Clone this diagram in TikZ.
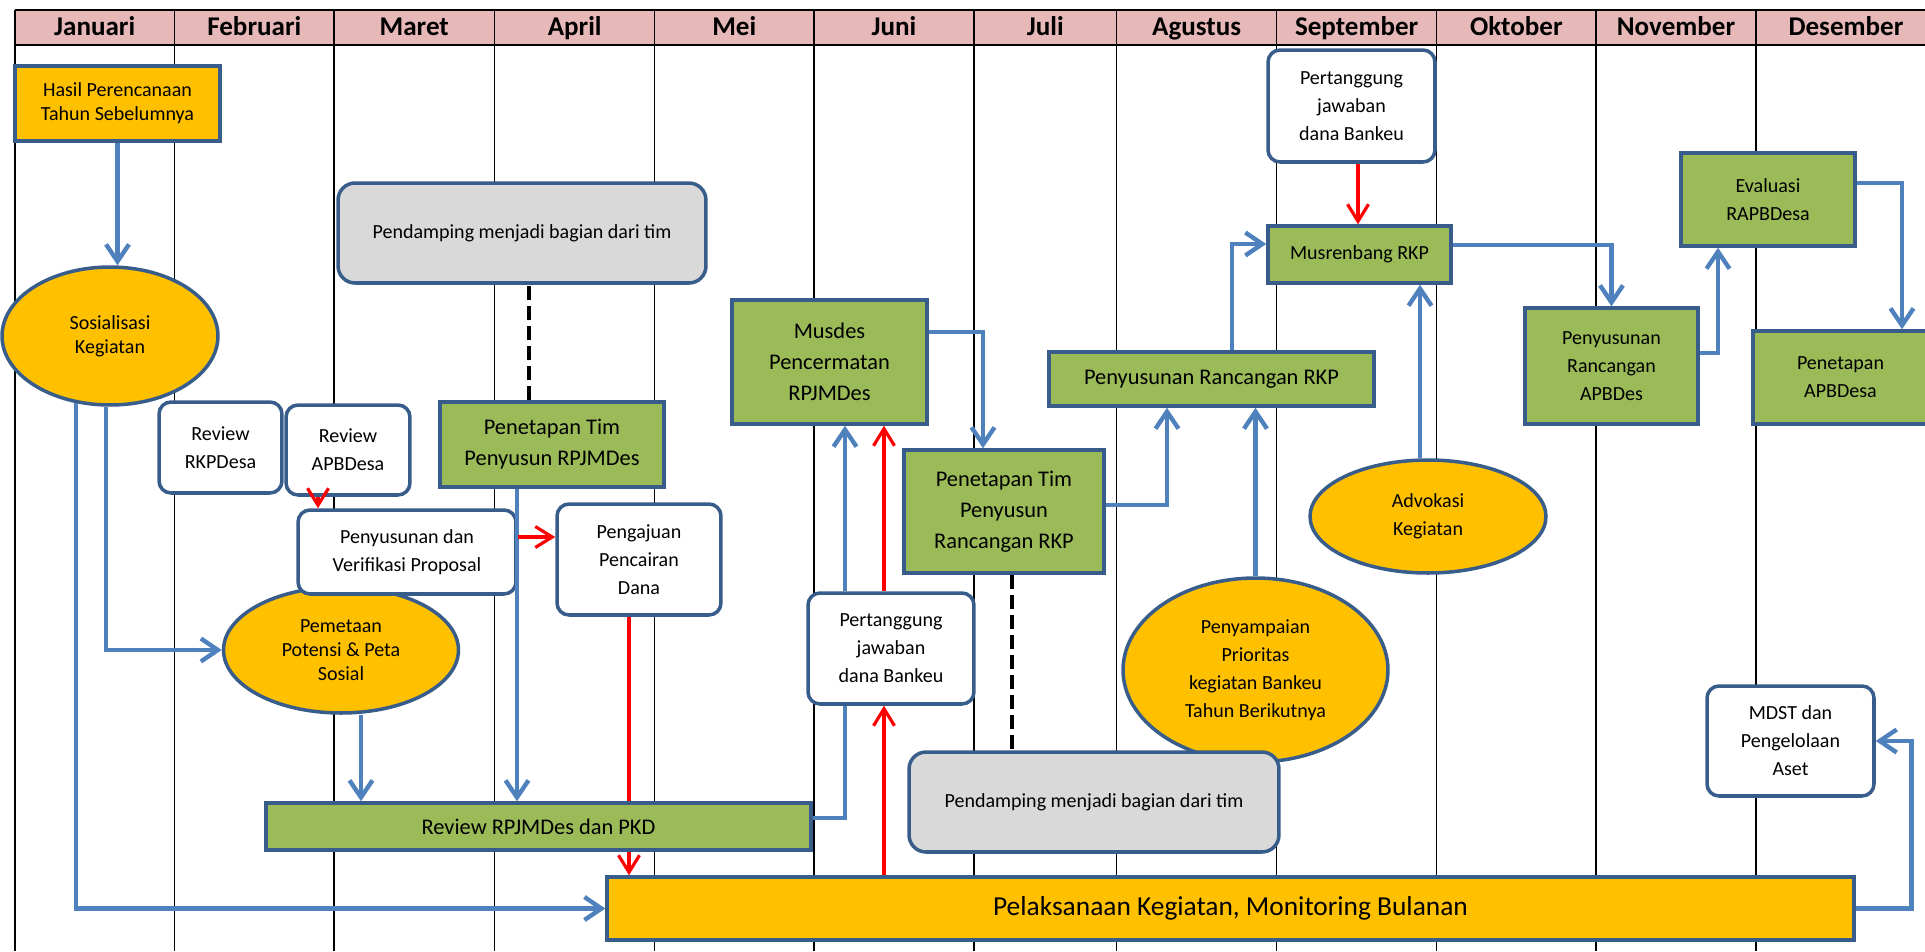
\documentclass[tikz,border=0pt]{standalone}
\usepackage{fontspec}
\setmainfont{Carlito}
\usetikzlibrary{arrows.meta,shapes.geometric}

\definecolor{headerpink}{HTML}{E6B8B7}
\definecolor{boxorange}{HTML}{FFC000}
\definecolor{boxgreen}{HTML}{9BBB59}
\definecolor{boxgray}{HTML}{D9D9D9}
\definecolor{nodeborder}{HTML}{385D8A}
\definecolor{flowblue}{HTML}{4F81BD}

\tikzset{
  boxline/.style={draw=nodeborder, line width=2pt, align=center, inner sep=0pt},
  smalltext/.style={font=\fontsize{11.4}{15.9}\selectfont},
  tighttext/.style={font=\fontsize{11.4}{13.7}\selectfont},
  midtext/.style={font=\fontsize{12.75}{17.6}\selectfont},
  greenbox/.style={boxline, rectangle, fill=boxgreen, midtext},
  orangebox/.style={boxline, rectangle, fill=boxorange, tighttext},
  orangeoval/.style={boxline, ellipse, fill=boxorange, smalltext},
  whitebox/.style={boxline, rectangle, rounded corners=0.24cm, fill=white, smalltext},
  graybox/.style={boxline, rectangle, rounded corners=0.34cm, fill=boxgray, smalltext},
  flowline/.style={draw=flowblue, line width=2.5pt},
  flow/.style={flowline, -{Straight Barb[length=0.34cm, width=0.46cm]}},
  redflow/.style={draw=red, line width=1.8pt, -{Straight Barb[length=0.34cm, width=0.42cm]}},
  teamlink/.style={draw=black, line width=2.8pt, dash pattern=on 0.28cm off 0.12cm},
  month/.style={font=\fontsize{15.4}{18}\selectfont\bfseries, anchor=base},
  gridline/.style={line width=0.75pt}
}

\begin{document}
\begin{tikzpicture}[x=0.02cm, y=-0.02cm]
    \useasboundingbox (0,0) rectangle (1925,951);

    % Header row
    \fill[headerpink] (14.7,10) rectangle (1936,45);
    \draw[line width=1.7pt] (14.7,10) -- (1936,10);
    \draw[gridline] (14.7,45) -- (1936,45);

    % Month columns
    \draw[line width=1pt] (14.7,10) -- (14.7,951);
    \foreach \x in {174.7,334,494.7,654.7,814,974,1116.7,1276.7,1436.7,1596,1756}
        \draw[gridline] (\x,10) -- (\x,951);
    \foreach \x/\m/\n in {94.7/Januari/jan, 254.3/Februari/feb, 414.3/Maret/mar,
        574.7/April/apr, 734.3/Mei/mei, 894/Juni/jun, 1045.3/Juli/jul,
        1196.7/Agustus/agu, 1356.7/September/sep, 1516.3/Oktober/okt,
        1676/November/nov, 1846/Desember/des}
        \node[month] (\n) at (\x,35) {\m};

    % Januari - Mei
    \node[orangebox, minimum width=4.1cm, minimum height=1.5cm] (hasil) at (117.5,103.5)
        {Hasil Perencanaan\\Tahun Sebelumnya};
    \node[orangeoval, tighttext, minimum width=4.32cm, minimum height=2.76cm] (sosial) at (110,336)
        {Sosialisasi\\Kegiatan};
    \node[graybox, minimum width=7.36cm, minimum height=2cm] (pend1) at (522,233)
        {Pendamping menjadi bagian dari tim};
    \node[whitebox, minimum width=2.46cm, minimum height=1.82cm] (reviewrkp) at (220.5,447.5)
        {Review\\RKPDesa};
    \node[whitebox, minimum width=2.48cm, minimum height=1.8cm] (reviewapb) at (348,450)
        {Review\\APBDesa};
    \node[greenbox, minimum width=4.48cm, minimum height=1.7cm] (tetaprpjm) at (552,444.5)
        {Penetapan Tim\\Penyusun RPJMDes};
    \node[orangeoval, tighttext, minimum width=4.7cm, minimum height=2.52cm] (pemetaan) at (341,650)
        {Pemetaan\\Potensi \& Peta\\Sosial};
    \node[whitebox, minimum width=4.36cm, minimum height=1.68cm] (verifikasi) at (407,552)
        {Penyusunan dan\\Verifikasi Proposal};
    \node[whitebox, minimum width=3.28cm, minimum height=2.22cm] (pengajuan) at (639,559.5)
        {Pengajuan\\Pencairan\\Dana};
    \node[orangebox, font=\fontsize{15.6}{18}\selectfont, minimum width=24.94cm, minimum height=1.26cm]
        (pelaksanaan) at (1230.5,908.5) {Pelaksanaan Kegiatan, Monitoring Bulanan};
    \draw[redflow] (pengajuan.south -| 629,0) -- (pelaksanaan.north -| 629,0);
    \node[greenbox, minimum width=10.9cm, minimum height=0.94cm] (reviewrpjm) at (538.5,826.5)
        {Review RPJMDes dan PKD};

    % Juni - Agustus
    \node[greenbox, minimum width=3.9cm, minimum height=2.48cm] (musdes) at (829.5,362)
        {Musdes\\Pencermatan\\RPJMDes};
    \node[whitebox, minimum width=3.32cm, minimum height=2.22cm] (tanggung1) at (891,648.5)
        {Pertanggung\\jawaban\\dana Bankeu};
    \node[greenbox, minimum width=4cm, minimum height=2.46cm] (tetaprkp) at (1004,511.5)
        {Penetapan Tim\\Penyusun\\Rancangan RKP};
    \node[orangeoval, minimum width=5.3cm, minimum height=3.68cm] (penyampaian) at (1255.5,670)
        {Penyampaian\\Prioritas\\kegiatan Bankeu\\Tahun Berikutnya};
    \node[graybox, minimum width=7.4cm, minimum height=2cm] (pend2) at (1094,802)
        {Pendamping menjadi bagian dari tim};
    \node[greenbox, minimum width=6.5cm, minimum height=1.08cm] (penyusunanrkp) at (1211.5,379)
        {Penyusunan Rancangan RKP};

    % September - Desember
    \node[whitebox, minimum width=3.34cm, minimum height=2.24cm] (tanggung2) at (1351.5,106)
        {Pertanggung\\jawaban\\dana Bankeu};
    \node[greenbox, smalltext, minimum width=3.66cm, minimum height=1.14cm] (musrenbang) at (1359.5,254.5)
        {Musrenbang RKP};
    \node[orangeoval, minimum width=4.72cm, minimum height=2.26cm] (advokasi) at (1428,516.5)
        {Advokasi\\Kegiatan};
    \node[greenbox, smalltext, minimum width=3.46cm, minimum height=2.32cm] (rancapbdes) at (1611.5,366)
        {Penyusunan\\Rancangan\\APBDes};
    \node[greenbox, smalltext, minimum width=3.48cm, minimum height=1.86cm] (evaluasi) at (1768,199.5)
        {Evaluasi\\RAPBDesa};
    \node[greenbox, smalltext, minimum width=3.5cm, minimum height=1.86cm] (tetapapbdes) at (1840.5,377.5)
        {Penetapan\\APBDesa};
    \node[whitebox, minimum width=3.34cm, minimum height=2.2cm] (mdst) at (1790.5,741)
        {MDST dan\\Pengelolaan\\Aset};

    % Blue flow
    \draw[flow] (hasil.south) -- (hasil.south |- sosial.north);
    \draw[flow] (sosial.243) |- (pelaksanaan.west);
    \draw[flow] (sosial.267) |- (pemetaan.west);
    \draw[flow] (pemetaan.south -| 361,0) -- (reviewrpjm.north -| 361,0);
    \draw[flow] (tetaprpjm.south -| 517,0) -- (reviewrpjm.north -| 517,0);
    \draw[flowline] (reviewrpjm.east |- 0,818) -| (tanggung1.south -| 845,0);
    \draw[flow] (tanggung1.north -| 845,0) -- (musdes.south -| 845,0);
    \draw[flow] (musdes.east |- 0,332) -| (tetaprkp.north -| 983,0);
    \draw[flow] (tetaprkp.east |- 0,505) -| (penyusunanrkp.south -| 1167,0);
    \draw[flow] (penyampaian.north) -- (penyampaian.north |- penyusunanrkp.south);
    \draw[flow] (penyusunanrkp.north -| 1232,0) |- (musrenbang.west |- 0,244);
    \draw[flow] (advokasi.north -| 1420,0) -- (musrenbang.south -| 1420,0);
    \draw[flow] (musrenbang.east |- 0,245) -| (rancapbdes.north);
    \draw[flow] (rancapbdes.east |- 0,353) -| (evaluasi.south -| 1718,0);
    \draw[flow] (evaluasi.east |- 0,183) -| (tetapapbdes.north -| 1902,0);
    \draw[flow] (pelaksanaan.east) -- ++(56,0) |- (mdst.east);

    % Red flow
    \draw[redflow] (reviewapb.south -| 318,0) -- (verifikasi.north -| 318,0);
    \draw[redflow] (verifikasi.east |- 0,537) -- (pengajuan.west |- 0,537);
    \draw[redflow] (pelaksanaan.north -| 884,0) -- (tanggung1.south -| 884,0);
    \draw[redflow] (tanggung1.north -| 884,0) -- (musdes.south -| 884,0);
    \draw[redflow] (tanggung2.south -| 1358,0) -- (musrenbang.north -| 1358,0);

    % Pendamping links
    \draw[teamlink] (tetaprpjm.north -| 529,0) -- (pend1.south -| 529,0);
    \draw[teamlink] (tetaprkp.south -| 1012,0) -- (pend2.north -| 1012,0);
\end{tikzpicture}
\end{document}
